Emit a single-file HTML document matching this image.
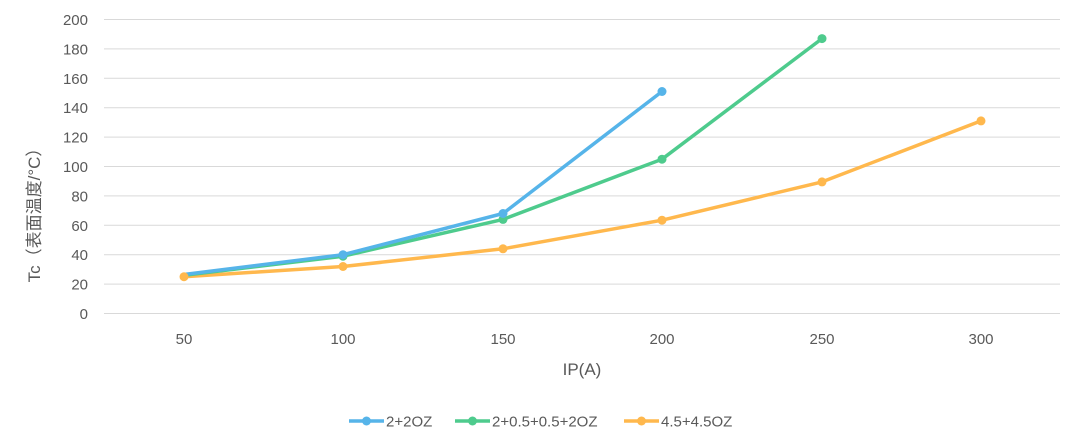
<!DOCTYPE html>
<html><head><meta charset="utf-8"><style>body{margin:0;background:#fff}svg{display:block}text{font-family:"Liberation Sans","Noto Sans CJK SC",sans-serif;fill:#595959}</style></head><body>
<svg width="1080" height="448" viewBox="0 0 1080 448">
<g stroke="#d9d9d9" stroke-width="1">
<line x1="104" x2="1060" y1="19.5" y2="19.5"/><line x1="104" x2="1060" y1="48.9" y2="48.9"/><line x1="104" x2="1060" y1="78.3" y2="78.3"/><line x1="104" x2="1060" y1="107.7" y2="107.7"/><line x1="104" x2="1060" y1="137.1" y2="137.1"/><line x1="104" x2="1060" y1="166.5" y2="166.5"/><line x1="104" x2="1060" y1="195.9" y2="195.9"/><line x1="104" x2="1060" y1="225.3" y2="225.3"/><line x1="104" x2="1060" y1="254.7" y2="254.7"/><line x1="104" x2="1060" y1="284.1" y2="284.1"/><line x1="104" x2="1060" y1="313.5" y2="313.5"/>
</g>
<g font-size="15" text-anchor="end">
<text x="88" y="25">200</text><text x="88" y="54.4">180</text><text x="88" y="83.8">160</text><text x="88" y="113.2">140</text><text x="88" y="142.6">120</text><text x="88" y="172">100</text><text x="88" y="201.4">80</text><text x="88" y="230.8">60</text><text x="88" y="260.2">40</text><text x="88" y="289.6">20</text><text x="88" y="319">0</text>
</g>
<g font-size="15" text-anchor="middle">
<text x="184" y="344">50</text><text x="343" y="344">100</text><text x="503" y="344">150</text><text x="662" y="344">200</text><text x="822" y="344">250</text><text x="981" y="344">300</text>
<text x="582" y="375" font-size="17">IP(A)</text>
</g>
<text transform="translate(40,211) rotate(-90)" font-size="17" text-anchor="middle">Tc（表面温度/°C）</text>
<g fill="none" stroke-width="3.5" stroke-linejoin="round">
<polyline stroke="#ffb84d" points="184,276.75 343,266.5 503,248.8 662,220.2 822,181.9 981,120.9"/>
<polyline stroke="#4ecb8d" points="184,275.3 343,256.2 503,219.4 662,159.2 822,38.6"/>
<polyline stroke="#56b4e9" points="184,274.5 343,254.7 503,213.5 662,91.5"/>
</g>
<g fill="#ffb84d"><circle cx="184" cy="276.75" r="4.5"/><circle cx="343" cy="266.5" r="4.5"/><circle cx="503" cy="248.8" r="4.5"/><circle cx="662" cy="220.2" r="4.5"/><circle cx="822" cy="181.9" r="4.5"/><circle cx="981" cy="120.9" r="4.5"/></g>
<g fill="#4ecb8d"><circle cx="343" cy="256.2" r="4.5"/><circle cx="503" cy="219.4" r="4.5"/><circle cx="662" cy="159.2" r="4.5"/><circle cx="822" cy="38.6" r="4.5"/></g>
<g fill="#56b4e9"><circle cx="343" cy="254.7" r="4.5"/><circle cx="503" cy="213.5" r="4.5"/><circle cx="662" cy="91.5" r="4.5"/></g>
<g stroke-width="3.5"><line x1="349" x2="384" y1="421" y2="421" stroke="#56b4e9"/><line x1="455" x2="490" y1="421" y2="421" stroke="#4ecb8d"/><line x1="624" x2="659" y1="421" y2="421" stroke="#ffb84d"/></g>
<circle cx="366.5" cy="421" r="4.5" fill="#56b4e9"/><circle cx="472.5" cy="421" r="4.5" fill="#4ecb8d"/><circle cx="641.5" cy="421" r="4.5" fill="#ffb84d"/>
<g font-size="15"><text x="386" y="426.5">2+2OZ</text><text x="492" y="426.5">2+0.5+0.5+2OZ</text><text x="661" y="426.5">4.5+4.5OZ</text></g>
</svg>
</body></html>
